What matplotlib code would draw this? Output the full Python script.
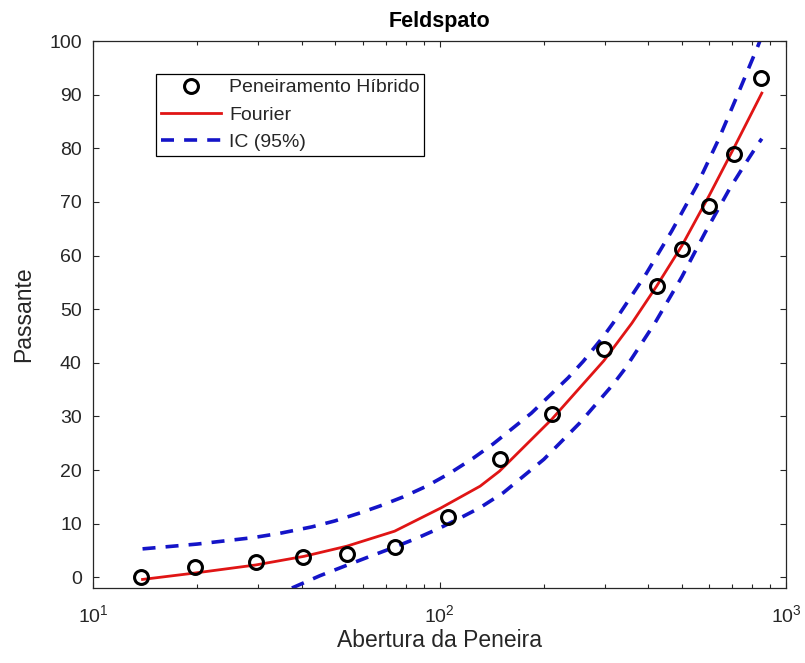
import numpy as np
import matplotlib
matplotlib.use("Agg")
import matplotlib.pyplot as plt
from matplotlib.ticker import LogLocator, NullFormatter

plt.rcParams["font.family"] = ["Liberation Sans", "DejaVu Sans"]
plt.rcParams["mathtext.fontset"] = "custom"
plt.rcParams["mathtext.rm"] = "Liberation Sans"
plt.rcParams["mathtext.it"] = "Liberation Sans:italic"

TXT = "#262626"

# sieve openings and cumulative passing (%)
abertura = [13.8, 19.7, 29.6, 40.5, 54.0, 74.5, 105.5, 149, 211, 299, 424, 500, 601, 709, 848]
passante = [0.0, 1.9, 2.85, 3.7, 4.3, 5.6, 11.2, 22.1, 30.4, 42.5, 54.4, 61.2, 69.3, 79.0, 93.1]

# Fourier fit
fit_x = [13.9, 19.7, 29.5, 40.6, 54.0, 74.2, 100.7, 131, 149, 211, 298,
         359, 423, 500, 600, 710, 851]
fit_y = [-0.4, 0.8, 2.3, 3.9, 5.8, 8.6, 12.9, 17.0, 19.8, 29.5, 40.4,
         47.4, 54.3, 61.8, 71.2, 80.3, 90.3]

# 95% confidence bounds
sup_x = [13.9, 20.0, 29.0, 34.6, 42.8, 49.8, 58.3, 67.3, 78.6, 91.8, 107, 125, 143,
         184, 235, 260, 297, 325, 392, 468, 552, 638, 728, 832, 851]
sup_y = [5.3, 6.2, 7.4, 8.2, 9.4, 10.5, 11.9, 13.3, 15.0, 17.0, 19.4, 22.2, 24.9,
         30.6, 37.2, 40.3, 44.9, 48.4, 56.3, 64.6, 73.0, 81.6, 90.3, 99.3, 101.0]

inf_x = [37.5, 45.2, 53.3, 62.4, 74.0, 86.8, 100.3, 115.8, 131, 153, 200, 254, 317,
         343, 419, 500, 584, 689, 769, 832, 851]
inf_y = [-2.0, 0.3, 2.1, 3.8, 5.6, 7.4, 9.2, 11.2, 13.0, 15.8, 22.0, 28.8, 36.0,
         38.9, 47.5, 56.0, 64.3, 72.6, 77.5, 80.9, 81.8]

fig = plt.figure(figsize=(8.05, 6.63), dpi=100)
ax = fig.add_axes([0.1155, 0.1131, 0.861, 0.8249])

ax.plot(abertura, passante, "o", ms=10, mfc="none", mec="black", mew=2.2,
        label="Peneiramento Híbrido", zorder=3)
ax.plot(fit_x, fit_y, "-", color="#e01515", lw=2.0, label="Fourier", zorder=2)
ax.plot(sup_x, sup_y, "--", color="#1414c8", lw=2.6, dashes=(3.6, 2.8),
        label="IC (95%)", zorder=2)
ax.plot(inf_x, inf_y, "--", color="#1414c8", lw=2.6, dashes=(3.6, 2.8), zorder=2)

ax.set_xscale("log")
ax.set_xlim(10, 1000)
ax.set_ylim(-2, 100)
ax.set_yticks(np.arange(0, 101, 10))
ax.xaxis.set_minor_locator(LogLocator(base=10, subs=np.arange(2, 10)))
ax.xaxis.set_minor_formatter(NullFormatter())

ax.tick_params(which="both", direction="in", top=True, right=True,
               colors=TXT, labelsize=14, width=0.8)
ax.tick_params(which="major", length=4.5)
ax.tick_params(which="minor", length=3)
ax.tick_params(axis="x", which="major", pad=12)
ax.tick_params(axis="y", which="major", pad=8)
for s in ax.spines.values():
    s.set_color(TXT)
    s.set_linewidth(0.9)

ax.set_title("Feldspato", fontsize=15.5, fontweight="bold", color="black", pad=10)
ax.set_xlabel("Abertura da Peneira", fontsize=16.5, color=TXT, labelpad=2)
ax.set_ylabel("Passante", fontsize=16.5, color=TXT, labelpad=10)

leg = ax.legend(loc="upper left", bbox_to_anchor=(0.091, 0.94), fontsize=14,
                handlelength=3.1, handletextpad=0.4, borderpad=0.25,
                labelspacing=0.5, fancybox=False, framealpha=1,
                edgecolor="black", numpoints=1, borderaxespad=0)
leg.get_frame().set_linewidth(0.9)
for t in leg.get_texts():
    t.set_color(TXT)

fig.savefig("out.png", dpi=100, facecolor="white")
